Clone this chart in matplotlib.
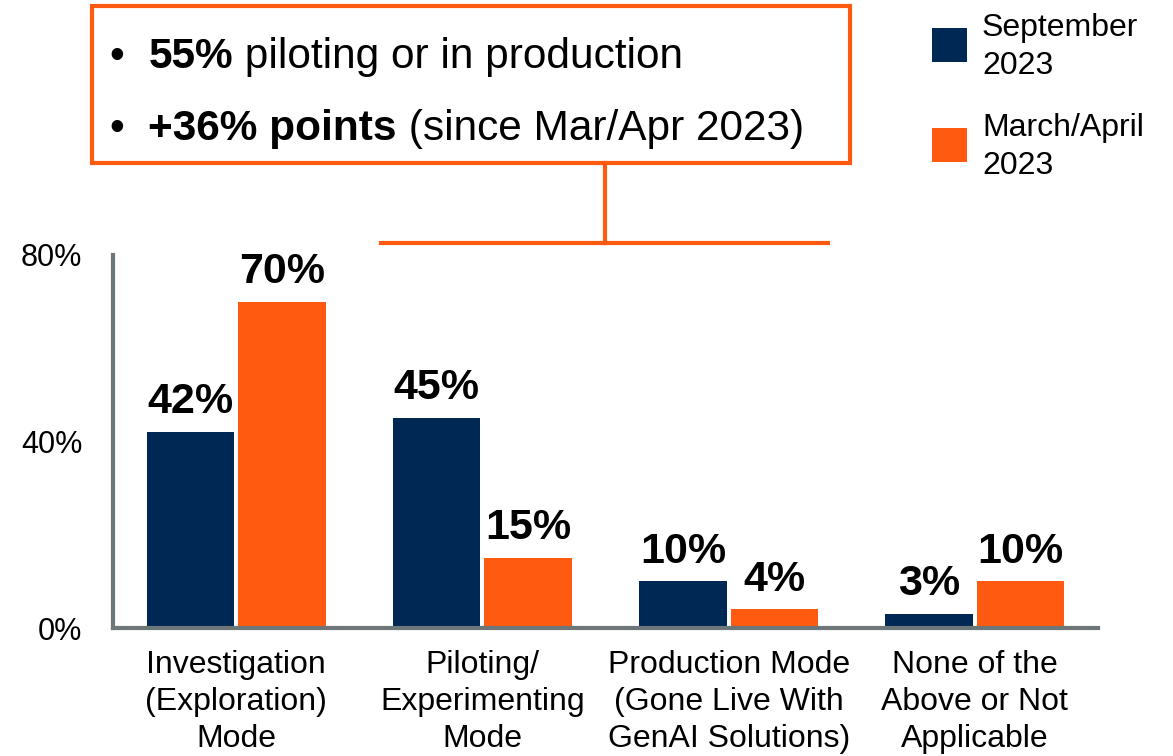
import matplotlib
matplotlib.use("Agg")
import matplotlib.pyplot as plt
from matplotlib.patches import Rectangle
from matplotlib.lines import Line2D
import numpy as np

plt.rcParams['font.family'] = ['Liberation Sans', 'DejaVu Sans']

categories = ["Investigation\n(Exploration)\nMode", "Piloting/\nExperimenting\nMode",
              "Production Mode\n(Gone Live With\nGenAI Solutions)", "None of the\nAbove or Not\nApplicable"]
series_names = ["September\n2023", "March/April\n2023"]
sep_2023 = [42, 45, 10, 3]
mar_apr_2023 = [70, 15, 4, 10]
yticks = [0, 40, 80]
ytick_labels = ["0%", "40%", "80%"]

NAVY = "#002855"
ORANGE = "#FF5A0F"
GRAY = "#6D7679"

W, H = 1173, 756
fig = plt.figure(figsize=(W / 100, H / 100), dpi=100)
ax = fig.add_axes([113 / W, 1 - 628 / H, (1098 - 113) / W, (628 - 255) / H])

x = np.arange(len(categories))
bw = 0.355
off = 0.186
b1 = ax.bar(x - off, sep_2023, bw, color=NAVY, label=series_names[0])
b2 = ax.bar(x + off, mar_apr_2023, bw, color=ORANGE, label=series_names[1])

for bars, vals in ((b1, sep_2023), (b2, mar_apr_2023)):
    for r, v in zip(bars, vals):
        ax.annotate(f"{v}%", (r.get_x() + r.get_width() / 2, v), xytext=(0, 7),
                    textcoords="offset points", ha="center", va="bottom",
                    fontsize=31, fontweight="bold", color="black")

ax.set_xlim(-0.5, 3.5)
ax.set_ylim(0, 80)
ax.set_yticks(yticks)
ax.set_yticklabels(ytick_labels)
ax.set_xticks(x)
ax.set_xticklabels(categories, linespacing=1.3)
ax.tick_params(axis="y", length=0, pad=22, labelsize=22)
ax.tick_params(axis="x", length=0, pad=16, labelsize=23)
for s in ("top", "right"):
    ax.spines[s].set_visible(False)
for s in ("left", "bottom"):
    ax.spines[s].set_color(GRAY)
    ax.spines[s].set_linewidth(3)

# Legend (manual)
legend_y = [(28, 62), (128, 162)]
for (y0, y1), name, col in zip(legend_y, series_names, [NAVY, ORANGE]):
    fig.add_artist(Rectangle((932 / W, 1 - y1 / H), 35 / W, (y1 - y0) / H,
                             transform=fig.transFigure, facecolor=col, edgecolor="none"))
    fig.text(982 / W, 1 - ((y0 + y1) / 2 + 2) / H, name, fontsize=23, ha="left",
             va="center", linespacing=1.35)

# Callout box
fig.add_artist(Rectangle((92 / W, 1 - 163 / H), (850 - 92) / W, (163 - 6) / H,
                         transform=fig.transFigure, fill=False, edgecolor=ORANGE, linewidth=3))
fig.add_artist(Line2D([605 / W, 605 / W], [1 - 163 / H, 1 - 243 / H],
                      transform=fig.transFigure, color=ORANGE, linewidth=3))
fig.add_artist(Line2D([381 / W, 828 / W], [1 - 243 / H, 1 - 243 / H],
                      transform=fig.transFigure, color=ORANGE, linewidth=3))

renderer = fig.canvas.get_renderer()

def rich_line(x0, y0, parts):
    xpos = x0
    for txt, weight in parts:
        t = fig.text(xpos / W, 1 - y0 / H, txt, fontsize=30.5, fontweight=weight,
                     va="baseline", ha="left")
        bb = t.get_window_extent(renderer=renderer)
        xpos += bb.width

rich_line(110, 68, [("•  ", "normal"), ("55%", "bold"), (" piloting or in production", "normal")])
rich_line(110, 140, [("•  ", "normal"), ("+36% points", "bold"), (" (since Mar/Apr 2023)", "normal")])

fig.savefig("out.png", dpi=100)
